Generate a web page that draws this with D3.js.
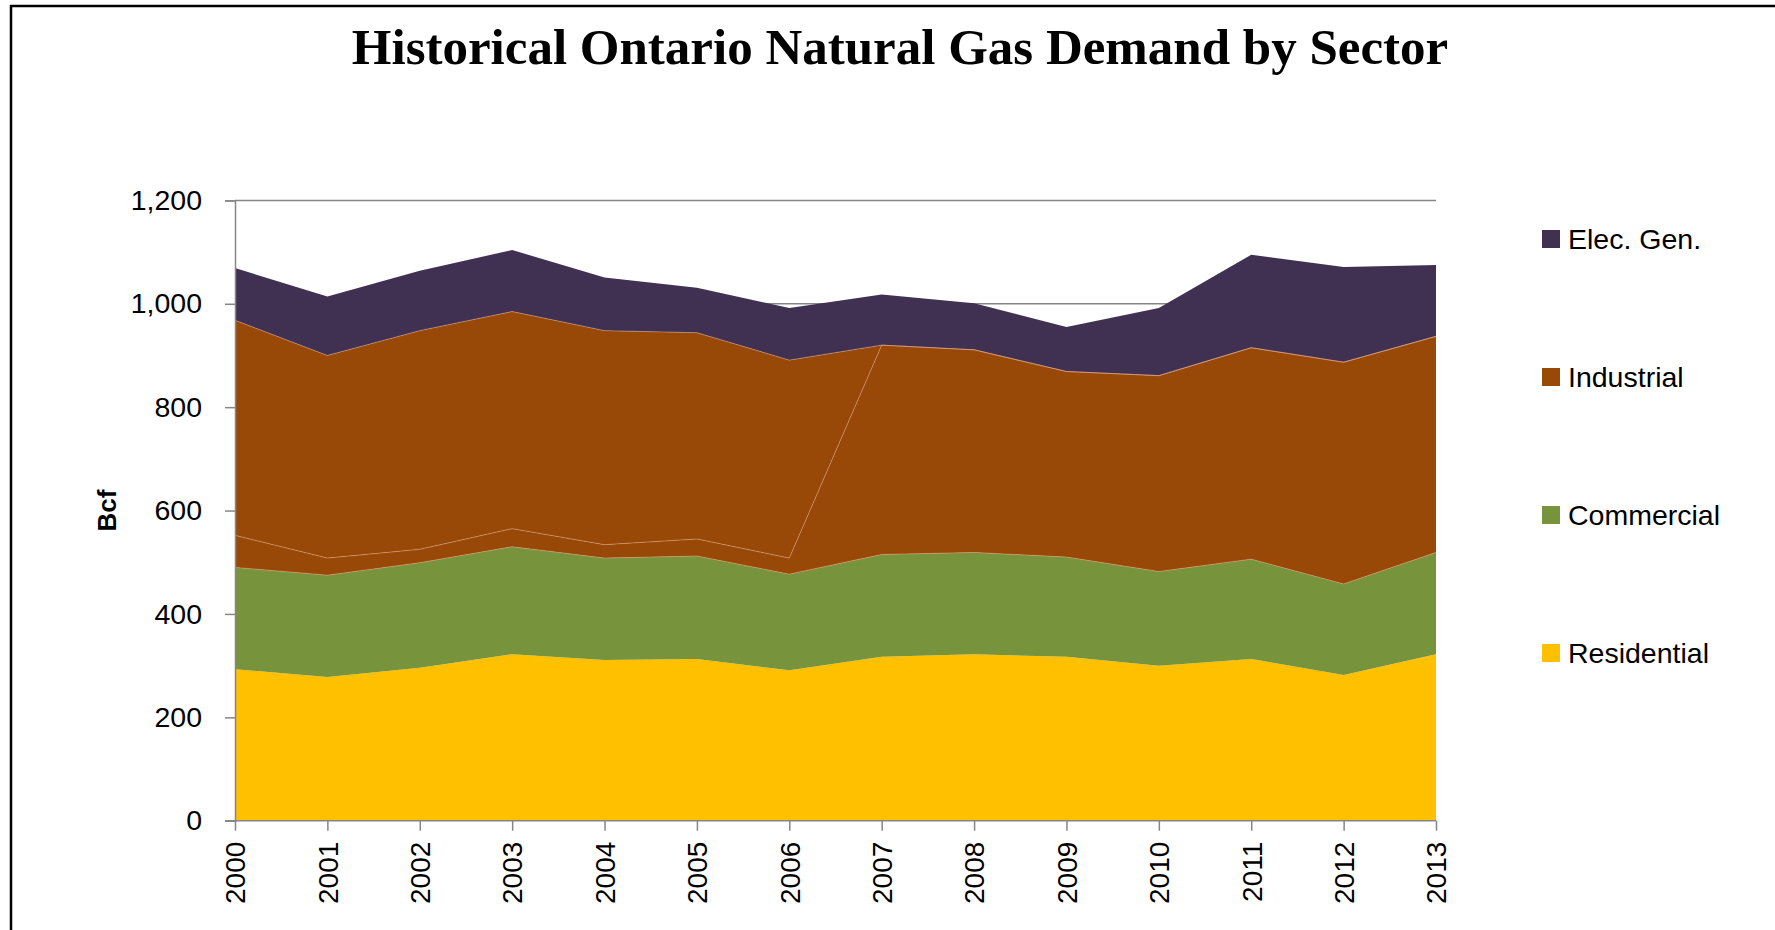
<!DOCTYPE html>
<html>
<head>
<meta charset="utf-8">
<script src="https://cdn.jsdelivr.net/npm/d3@7"></script>
<style>
	body { margin: 0; background: #fff; }
	svg text { fill: #000; }
</style>
</head>
<body>
<svg id="chart" width="1775" height="930"></svg>
<script>
// years along the bottom
const years = ["2000", "2001", "2002", "2003", "2004", "2005", "2006",
	"2007", "2008", "2009", "2010", "2011", "2012", "2013"];

// Bcf by sector
const residential = [293, 278, 296, 322, 311, 313, 291, 317, 322, 317, 300, 313, 282, 322];
const commercial  = [197, 197, 203, 208, 197, 199, 186, 198, 197, 193, 182, 193, 176, 197];
// second brown band (no legend entry) - carries all industrial from 2007
const industrialB = [62, 33, 26, 35, 26, 33, 31, 405, 392, 359, 379, 409, 429, 418];
const industrial  = [416, 392, 423, 420, 414, 399, 383, 0, 0, 0, 0, 0, 0, 0];
const elecGen     = [101, 114, 116, 119, 103, 87, 101, 98, 90, 86, 131, 180, 184, 138];

const yTicks = [0, 200, 400, 600, 800, 1000, 1200];

const seriesKeys = ["residential", "commercial", "industrialB", "industrial", "elecGen"];
const colors = {
	residential: "#FFC000",
	commercial: "#77933C",
	industrialB: "#984807",
	industrial: "#984807",
	elecGen: "#403152"
};
const legendItems = [
	{ key: "elecGen", label: "Elec. Gen." },
	{ key: "industrial", label: "Industrial" },
	{ key: "commercial", label: "Commercial" },
	{ key: "residential", label: "Residential" }
];

const table = years.map((y, i) => ({
	year: y,
	residential: residential[i],
	commercial: commercial[i],
	industrialB: industrialB[i],
	industrial: industrial[i],
	elecGen: elecGen[i]
}));

const svg = d3.select("#chart");
const sans = "'Liberation Sans', Arial, sans-serif";

// outer frame, runs off the right and bottom
svg.append("rect")
	.attr("x", 11).attr("y", 6)
	.attr("width", 1900).attr("height", 1000)
	.attr("fill", "none")
	.attr("stroke", "#000")
	.attr("stroke-width", 2.5);

svg.append("text")
	.attr("x", 900).attr("y", 64)
	.attr("text-anchor", "middle")
	.style("font-family", "'Liberation Serif', 'DejaVu Serif', serif")
	.style("font-weight", "bold")
	.style("font-size", "51px")
	.text("Historical Ontario Natural Gas Demand by Sector");

const x = d3.scalePoint().domain(years).range([235, 1436]);
const y = d3.scaleLinear().domain([0, 1200]).range([820.7, 200.4]);

// gridlines (mostly hidden by the areas)
svg.append("g")
	.selectAll("line")
	.data(yTicks.slice(1))
	.join("line")
	.attr("x1", x.range()[0]).attr("x2", x.range()[1])
	.attr("y1", d => y(d)).attr("y2", d => y(d))
	.attr("stroke", "#868686")
	.attr("stroke-width", 1.5);

const stacked = d3.stack().keys(seriesKeys)(table);

const area = d3.area()
	.x(d => x(d.data.year))
	.y0(d => y(d[0]))
	.y1(d => y(d[1]));

svg.append("g")
	.selectAll("path")
	.data(stacked)
	.join("path")
	.attr("d", area)
	.attr("fill", d => colors[d.key]);

// faint seams along the top of each band
const topLine = d3.line()
	.x(d => x(d.data.year))
	.y(d => y(d[1]));
svg.append("g")
	.selectAll("path")
	.data(stacked.slice(1, 4))
	.join("path")
	.attr("d", topLine)
	.attr("fill", "none")
	.attr("stroke", "#e0a27a")
	.attr("stroke-width", 0.7)
	.attr("stroke-opacity", 0.8);

// y axis
const yAxis = svg.append("g")
	.attr("transform", `translate(${x.range()[0]},0)`)
	.call(d3.axisLeft(y).tickValues(yTicks).tickSize(10).tickPadding(23)
		.tickFormat(d3.format(",")));
yAxis.select(".domain").attr("stroke", "#868686").attr("stroke-width", 1.5);
yAxis.selectAll(".tick line").attr("stroke", "#868686").attr("stroke-width", 1.5);
yAxis.selectAll("text")
	.style("font-family", sans)
	.style("font-size", "28.5px");

// x axis
const xAxis = svg.append("g")
	.attr("transform", `translate(0,${y(0)})`)
	.call(d3.axisBottom(x).tickSize(10).tickSizeOuter(0));
xAxis.select(".domain")
	.attr("d", `M${x.range()[0] - 10},0H${x.range()[1]}`)
	.attr("stroke", "#868686").attr("stroke-width", 1.5);
xAxis.selectAll(".tick line").attr("stroke", "#868686").attr("stroke-width", 1.5);
xAxis.selectAll("text")
	.attr("transform", "rotate(-90)")
	.attr("x", -21).attr("y", 0).attr("dy", "0.35em")
	.attr("text-anchor", "end")
	.style("font-family", sans)
	.style("font-size", "28px");

svg.append("text")
	.attr("transform", `translate(116,${(y(0) + y(1200)) / 2}) rotate(-90)`)
	.attr("text-anchor", "middle")
	.style("font-family", sans)
	.style("font-weight", "bold")
	.style("font-size", "26px")
	.text("Bcf");

// legend
const legend = svg.append("g")
	.selectAll("g")
	.data(legendItems)
	.join("g")
	.attr("transform", (d, i) => `translate(1542,${239 + i * 138})`);
legend.append("rect")
	.attr("x", 0).attr("y", -9)
	.attr("width", 18).attr("height", 18)
	.attr("fill", d => colors[d.key]);
legend.append("text")
	.attr("x", 26).attr("y", 0).attr("dy", "0.35em")
	.style("font-family", sans)
	.style("font-size", "28.5px")
	.text(d => d.label);
</script>
</body>
</html>
